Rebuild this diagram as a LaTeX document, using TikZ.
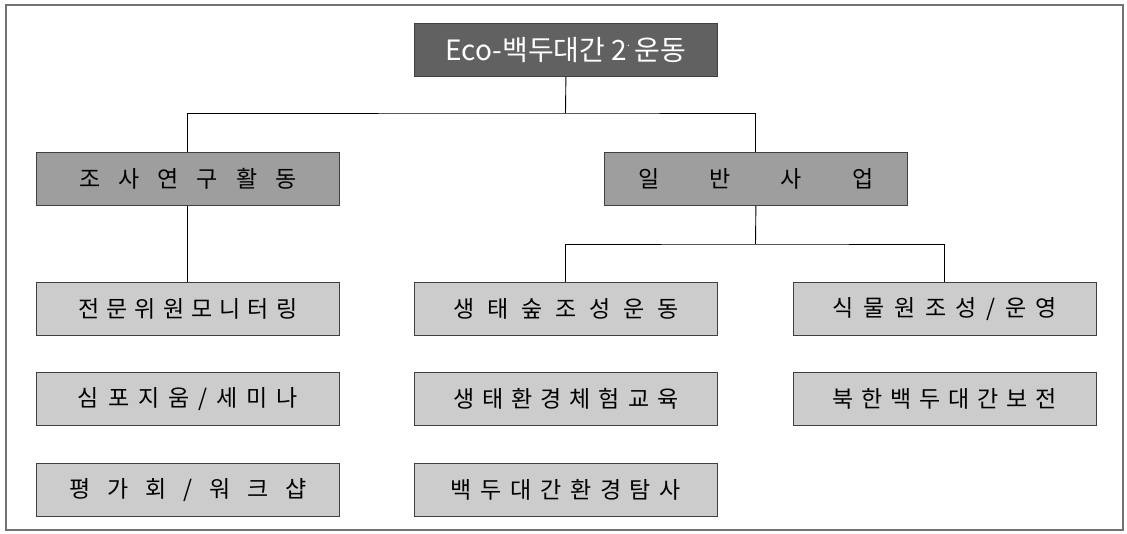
\documentclass[tikz,border=0pt]{standalone}
\usepackage{fontspec}
\setmainfont{Noto Sans CJK KR}
\newcommand\spr[2]{\makebox[#1pt][s]{#2}}
\begin{document}
\begin{tikzpicture}[x=1pt,y=-1pt,
  box/.style={draw=black!75, line width=0.8pt, minimum width=303pt, minimum height=53pt, inner sep=0pt, anchor=north west, font=\fontsize{23}{23}\selectfont},
  rootbox/.style={box, fill=black!62, text=white, font=\fontsize{28}{28}\selectfont},
  midbox/.style={box, fill=black!38},
  leafbox/.style={box, fill=black!20},
  conn/.style={draw=black, line width=0.9pt}]
\useasboundingbox (0,0) rectangle (1127,534);
\draw[black!55, line width=1.2pt] (6,5) rectangle (1123,530);
% nodes
\node[rootbox] (root) at (414,23) {Eco-백두대간 2\raisebox{0.5em}{\fontsize{10}{10}\selectfont .}\,운동};
\node[midbox] (res) at (36,152) {\spr{217}{조\hfill 사\hfill 연\hfill 구\hfill 활\hfill 동}};
\node[midbox] (gen) at (604,152) {\spr{235}{일\hfill 반\hfill 사\hfill 업}};
\node[leafbox] (mon) at (36,282) {\spr{219}{전\hfill 문\hfill 위\hfill 원\hfill 모\hfill 니\hfill 터\hfill 링}};
\node[leafbox] (sym) at (36,372) {\spr{220}{심\hfill 포\hfill 지\hfill 움\hfill /\hfill 세\hfill 미\hfill 나}};
\node[leafbox] (wks) at (36,463) {\spr{237}{평\hfill 가\hfill 회\hfill /\hfill 워\hfill 크\hfill 샵}};
\node[leafbox] (eco) at (414,282) {\spr{225}{생\hfill 태\hfill 숲\hfill 조\hfill 성\hfill 운\hfill 동}};
\node[leafbox] (edu) at (414,372) {\spr{225}{생\hfill 태\hfill 환\hfill 경\hfill 체\hfill 험\hfill 교\hfill 육}};
\node[leafbox] (exp) at (414,463) {\spr{230}{백\hfill 두\hfill 대\hfill 간\hfill 환\hfill 경\hfill 탐\hfill 사}};
\node[leafbox] (bot) at (793,282) {\spr{224}{식\hfill 물\hfill 원\hfill 조\hfill 성\hfill /\hfill 운\hfill 영}};
\node[leafbox] (nk) at (793,372) {\spr{224}{북\hfill 한\hfill 백\hfill 두\hfill 대\hfill 간\hfill 보\hfill 전}};
% connectors
\coordinate (hubA) at (565.5,113);
\coordinate (hubB) at (755.5,244);
\draw[conn] (root.south) -- (hubA);
\draw[conn] (res.north) |- (hubA) -| (gen.north);
\draw[conn] (res.south) -- (mon.north);
\draw[conn] (gen.south) -- (hubB);
\draw[conn] (eco.north) |- (hubB) -| (bot.north);
\end{tikzpicture}
\end{document}
